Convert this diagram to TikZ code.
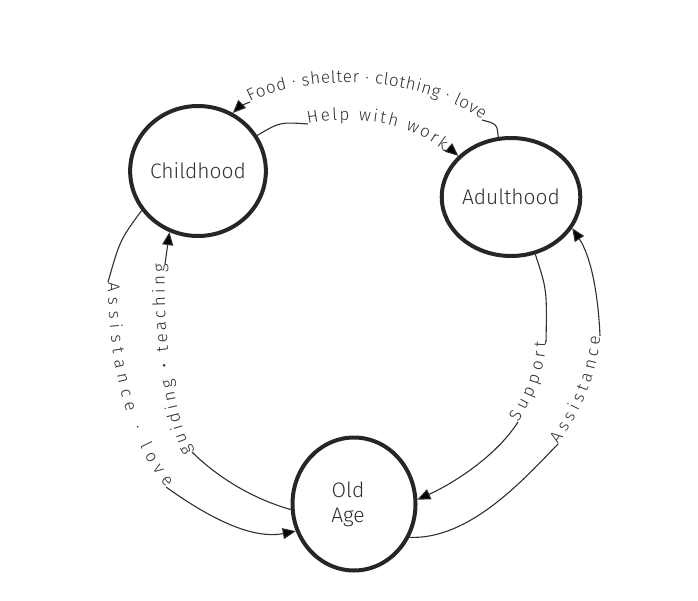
\documentclass[tikz,border=0pt]{standalone}
\usepackage{fontspec}
\setmainfont{Fira Sans Light}
\usetikzlibrary{shapes.geometric,arrows.meta,decorations.text}
\definecolor{ink}{HTML}{262626}
\definecolor{pen}{HTML}{303030}
\newcommand\lblfont{\fontsize{17}{19}\selectfont}
\begin{document}
\begin{tikzpicture}[x=1pt,y=-1pt,
  stage/.style={ellipse, draw=ink, line width=4pt, inner sep=0pt, font=\fontsize{21}{25}\selectfont, text=pen},
  link/.style={draw=pen, line width=1.1pt},
  arr/.style={link, -{Triangle[length=13pt,width=11pt]}},
  lbl/.style={decorate, decoration={text along path, text align={fit to path}, text color=pen, text={|\lblfont|#1}}}
]
\useasboundingbox (0,0) rectangle (698,601);

\node[stage, minimum width=127pt, minimum height=130pt] (C) at (198,171) {Childhood};
\node[stage, minimum width=129pt, minimum height=118pt] (A) at (511,197) {Adulthood};
\node[stage, minimum width=123pt, minimum height=133pt, align=center] (O) at (354,504) {\hspace*{-12pt}Old\\\hspace*{-12pt}Age};

% Food . shelter . clothing . love  (Adulthood -> Childhood)
\coordinate (fs) at (250,102);
\coordinate (fe) at (482,120);
\draw[link] (A.102) .. controls (497,124) .. (fe);
\path[lbl={Food · shelter · clothing · love}] (fs) .. controls (310,72) and (420,76) .. (fe);
\draw[arr] (fs) .. controls (240,106) .. (C.59);

% Help with work (Childhood -> Adulthood)
\coordinate (hs) at (308,124);
\coordinate (he) at (443,150);
\draw[link] (C.31) .. controls (280,122) .. (hs);
\path[lbl={Help with work}] (hs) .. controls (360,114) and (410,124) .. (he);
\draw[arr] (he) .. controls (455,153) .. (A.142);

% Support (Adulthood -> Old Age)
\coordinate (sb) at (518,422);
\coordinate (st) at (546,342);
\draw[link] (A.293) .. controls (547,290) .. (st);
\path[lbl={Support}] (sb) .. controls (535,395) and (545,370) .. (st);
\draw[arr] (sb) .. controls (495,458) and (450,485) .. (O.4);

% Assistance (Old Age -> Adulthood)
\coordinate (ab) at (558,444);
\coordinate (at) at (600,336);
\draw[link] (O.329) .. controls (470,540) and (525,478) .. (ab);
\path[lbl={Assistance}] (ab) .. controls (583,410) and (598,370) .. (at);
\draw[arr] (at) .. controls (598,290) and (590,255) .. (A.333);

% guiding . teaching (Old Age -> Childhood)
\coordinate (gb) at (192,452);
\coordinate (gt) at (165,264);
\draw[link] (O.185) .. controls (250,498) and (215,475) .. (gb);
\path[lbl={guiding • teaching}] (gb) .. controls (172,410) and (163,330) .. (gt);
\draw[arr] (gt) -- (C.245);

% Assistance . love (Childhood -> Old Age)
\coordinate (lt) at (108,282);
\coordinate (lb) at (166,487);
\draw[link] (C.215) .. controls (120,240) .. (lt);
\path[lbl={Assistance · love}] (lt) .. controls (108,370) and (130,445) .. (lb);
\draw[arr] (lb) .. controls (205,515) and (250,540) .. (O.205);
\end{tikzpicture}
\end{document}
